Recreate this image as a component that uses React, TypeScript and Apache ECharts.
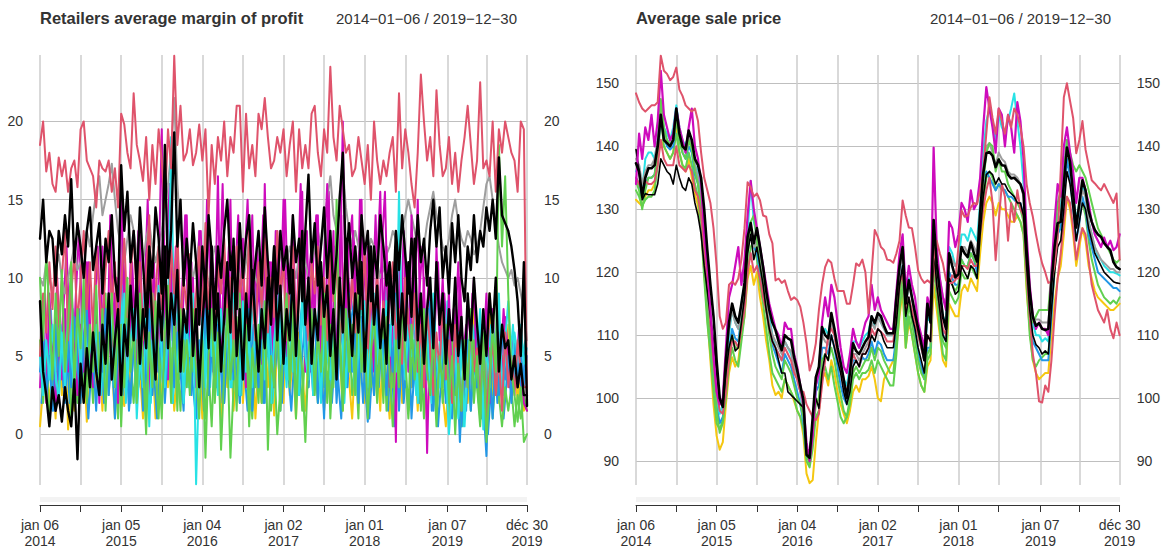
import React, { useEffect, useRef } from 'react';
import * as echarts from 'echarts';

// ---- axis / categories ----
const WEEKS = 313; // 2014-01-06 .. 2019-12-30, weekly
const STEP = 2; // values read every 2nd week
const TICK_IDX = [0, 26, 52, 78, 104, 130, 156, 182, 208, 234, 261, 286, 312];
const LABEL_IDX = [0, 52, 104, 156, 208, 261, 312];
const TICK_LABELS = ['jan 06\n2014', 'jan 05\n2015', 'jan 04\n2016', 'jan 02\n2017', 'jan 01\n2018', 'jan 07\n2019', 'déc 30\n2019'];
const LEFT_TITLE = 'Retailers average margin of profit';
const RIGHT_TITLE = 'Average sale price';
const RANGE_TEXT = '2014\u221201\u221206 / 2019\u221212\u221230';

const C_BLACK = '#000000';
const C_RED = '#DF536B';
const C_GREEN = '#61D04F';
const C_BLUE = '#2297E6';
const C_CYAN = '#28E2E5';
const C_MAGENTA = '#CD0BBC';
const C_YELLOW = '#F5C710';
const C_GRAY = '#9E9E9E';

// ---- left panel: margin of profit (even weeks) ----
const L_red1 = [18.5,20,16.8,18,16,15.5,17.7,16.5,17.5,15.5,
17,17.5,15.8,19.5,20,17.5,17,16.5,14.5,17.5,
17,16.8,17.5,15.5,17,14.5,20.5,19.8,18,17,
21.8,18.5,17.5,16.2,19,15,18.5,16,19.5,17.5,
14.5,19.5,17,24.2,18.5,21,17.5,18,19.5,17.2,
18,19.8,17.5,19.5,14,18.5,16,19,17.5,20,
16.5,19,18,21,21,15.5,20.5,17,18.5,16.5,
20.5,19.5,21.5,19,17,17.5,19,18,19.5,16.5,
18.5,20,15.5,19.5,17,18.5,17,20.5,21,18,
16.5,19.5,18,23.5,19,17.5,21,19.5,18,18.5,
16.5,17,19,17.5,16,18.5,15,20,17.5,16,
17.5,16.5,18,19,15.5,21.8,17,19.5,18,16,
14.5,18,23,20,17.5,19,16.5,22,18.5,16.5,
17,19,16,18,15.5,17.5,19,21,18.5,16,
17.5,22.5,17,17.5,16.5,20,15.5,19.5,18,20,
19,18,17.5,15.5,20,19.5,2];

const L_blackA = [12.5,15,11,13,12.5,9.5,13,11.5,14,12,
16.3,11,13.5,12,10,13,14.5,10.5,12,13.5,
9,12.5,11,14,10,8.5,17.2,13,15.5,11,
13,9.5,14.5,11,7.5,12,10,14.5,12.5,9,
18.5,10,13,19.3,12,15,9.5,12.5,10,13.5,
11,7,12,9,14,11.5,8,12,10,13,
15,10.5,12,8,13.5,10,12.5,14,9,11,
13,9.5,14.5,11,8,12,9,13,10.5,12,
9,14,11,12.5,8.5,13,16.6,11,13.5,9.5,
12,14.5,10,13,9,11.5,15,18,11,13.5,
10,12,9,14,11.5,13,8.5,12,10,14,
12,9.5,11,8,13,10.5,14,11.5,9,12.5,
10.5,14,11,12.5,9.5,13,15,12,14.5,10,
12,9,13.5,11,14,10,8.5,12,10.5,14,
11,13,12,14.5,13,15,12.5,17.7,14,13.5,
13,12,10.5,8.5,5,11,1.8];

const L_blackB = [8.5,4,2.5,0.5,3,1.5,2.5,0.8,3,1.5,
0.5,3.5,-1.6,4.5,2,5.5,3,6.5,4,2.5,
7,4.5,9,3.5,6,8,2.5,7,5,9.5,
6,10,4.5,8,5.5,11,7,3.5,9,6,
12,5.5,9,7,10.5,4,8,6.5,11,5,
8,3,7,10,5.5,12,6,9,4,7.5,
11,6.5,12.5,5,8,3.5,9,6,10.5,7,
4,8,5.5,10,7,12,6,9.5,4.5,8,
6,10.5,5,9,13,7,10,4.5,8,6,
11,7.5,9.5,5,8,3.5,10,6.5,12.5,8,
5,9,6.5,11,4,8.5,12,7,9.5,5.5,
8,4.5,10.5,7,12,5.5,9,6,11,7.5,
12.5,6,9,4.5,8,10,5.5,11,7,9,
4.5,8,6,10,5,7.5,3.5,9,6,10,
7,4.5,8,5,9,6.5,10,4,7,5.5,
6,3.5,5,3,4.5,2.5,2.5];

const L_red2 = [5,9,6.5,11,8,12,7,10,13,6,
9,11.5,7,10,13,8,11,6.5,12,9,
7,10.5,13,8,11,6,9.5,12.5,7.5,10,
13,8.5,11,6,10,14,7,9,12,8,
10.5,6.5,12,9,13,7,10,8,11.5,6,
9,12,7.5,13.5,8,10.5,6,11,9,12.5,
7,10,5.5,12,8.5,11,7,13,9,6,
11,8,12.5,6.5,10,7.5,13,9,11,6,
9.5,12,7,10.5,13,8,6,11,9,12,
7,10,6,12.5,8.5,11,5.5,9,12,7.5,
10,6.5,11,8,12,5.5,9,7,10.5,6,
8.5,5,9,11,6,8,4.5,10,7,5.5,
9,4,7,3,8,5.5,2.5,6.5,4,8.5,
3.5,6,2,7,4.5,1.5,6,3,7,4,
5.5,2,6.5,0.8,4,6,2.5,5,1.5,6.5,
3,5,2.5,6,4,3,3];

const L_gray = [10,9.5,11,10,9,10.5,11.5,10,9,10,
11,12,10.5,11,12.5,13,12,14,15.5,16.5,
14,15,16,17.3,15,13,12,11,12.5,14,
13,11.5,10,11,12.5,13.5,12,11,12,13,
14.5,16,18,21.5,16,13,11.5,12,11,10,
11,12.5,11,10,9.5,11,12,11,10,9.5,
10.5,11.5,12,11,10,9.5,11,12.5,11,10,
9.5,10.5,12,11,10,11,12,11.5,10.5,11,
12,11,10,11.5,12.5,11,10,11,12,13,
12,13.5,15,16.5,14,13,15.5,17,14.5,13,
12,13,12,11,10.5,11.5,12.5,12,11,10,
10.5,11.5,12,13,12.5,12,13,14,15,14,
13,12,11,12,13.5,14.5,15.5,14,13,12,
11.5,12.5,14,15,13.5,12.5,12,13,12.5,11.5,
12,13,14.5,16,16.5,15,13.5,12,11,10.5,
10,10.5,9.5,10,9,8,6];

const L_magenta = [3,7,2,9,5,1.5,6,3.5,8,4,
10,5,2.5,7,4,11,6,3,8.5,2,
12,5,8,3.5,9,2,16.5,7,4,11,
6,3,13,5,9,2.5,7,4.5,10,19.5,
8,3.5,11,6,13,4,9,14,5,10,
3,13,6,9.5,4,12,7,16.5,5,11,
8,15,4,10,6.5,12.5,3,9,14,6,
10,4.5,16,7,11,3,13,8,15,5,
9,14,6,11,15.5,4,10,12,7,14,
5,11,16,7,13,4.5,9,20,6,12,
14,7,10,15,5,12,8,4,11,15.5,
7,12,3,9,-0.5,13,6,11,4,14,
8,15,5,10,-1.2,7,3,12,6,10,
4,9,2.5,7,11,5,3,8,6,10,
3,7,5,9,2,8,4,6.5,3,7.5,
5,2.5,6,3,4.5,2,1.5];

const L_cyan = [5,2.5,6,3.5,7,4,2,6.5,3,8,
5,3,7.5,4,9,2.5,6,4.5,7,3.5,
6,2,8.5,5,3,7,4.5,9,3.5,6,
8,1,5,3,7.5,0.5,6,4,9.5,5,
3,7,19,6,4,8.5,2,6.5,5,9,
-3.2,4,7.5,3,9,5,6.5,2.5,8,4.5,
7,3,9,5.5,2.5,8.5,4,6,3,7.5,
5,9.5,3.5,7,2,6,8,4.5,6.5,3,
8,4,7,2.5,9.5,5,3.5,7,4,6,
2,8,5,3.5,7,4,9,6,3,8,
5.5,2.5,7,4,8.5,3,6,9,4.5,7,
3,8.5,5,9,4,15.5,6,3.5,7,5,
8,2,6.5,4,7,2.5,9,5,3,6.5,
4,0,3,5.5,1,6,0.5,4.5,7,2.5,
5,8,0.3,6,3,7.5,4,9,2.5,6,
8.5,4,6.5,5,7,4.5,5.5];

const L_blue = [4,6.5,2.5,5,1.5,7,3.5,5.5,2,6,
3,7.5,4.5,2,6,8,3,5,1.5,6.5,
4,8,2.5,5.5,1,6,3.5,8.5,4.5,2,
6,3.5,7,1.5,5,8,2.5,6,4,7,
2,5.5,9,3,6.5,4,1.5,7.5,5,3,
1,6,4,8,2.5,5.5,3,7,4.5,2,
6.5,9,3.5,5,2,7,4,8,1.5,5.5,
3,6,2,8.5,4,5.5,7,1.5,6,3.5,
9,4,6.5,2.5,5,7.5,3,6,8,2,
5,1,6.5,3.5,8,2,5.5,7,3,9,
4,6.5,2,7.5,3.5,0.8,5,2.5,8,4.5,
6,2.5,7,4,9,1.5,5.5,3,7,1,
4.5,8,2,6,3.5,8.5,1.5,5,3,6.5,
2,5.5,1,4,6.5,0.5,3.5,6,1.5,4.5,
3,6.5,2,-1.4,4.5,1,5.5,2.5,7,3.5,
5,2,6,3.5,5.5,3,5];

const L_green1 = [10,6,11.5,8,3.5,9,5,10.5,4,7,
11,3,8,5.5,10,2,7,4,9.5,3.5,
8,1.5,6,9,3,7.5,0.5,6,10,4,
7,2,9,4.5,0,6.5,3,8.5,5,1,
6.5,9.5,3,7,1.5,8,4,6,2.5,8,
4,1,6,-1.5,5,8,2,6.5,-1,4,
8,3.5,6,1.5,9,4,7,0.5,5.5,3,
7,2,8.5,-1,5,3,7.5,1.5,6,9,
3,7,1,6,4,-0.5,5,8,2.5,6.5,
4,9,2,7,3,15,6,1.5,8,4,
7,2.5,9,4,6.5,1,5,8,3,6,
2,7.5,4,0.5,6,3,8.5,5,1.5,7,
3.5,6,1.5,8,4,2.5,6.5,1,5,3,
7,2,5,0,4.5,1.5,6,3,8,2,
5,1,6.5,-0.5,3,7,4,18.5,12,16.5,
9,4,2.5,0.8,3,-0.5,0];

const L_green2 = [6,2,5,1,4,7,2.5,5.5,3,8,
1,4.5,2,6,3,8.5,5,2,7,3.5,
5,9,2.5,6,4,1,7,3,8,4.5,
2,6,3.5,8,1.5,5,9,4,1,6.5,
3.5,7,2,8.5,5,1.5,6,3,7,4,
9,3,6.5,1,4,0.5,6,3.5,8,2,
5.5,-1.5,3,7.5,2,6,9,3.5,1,5,
2,7,4,6.5,1.5,5,0,3,6,8,
4,8.5,2,5,1.5,6,3,7,4.5,2,
6,3,8,1,5,3.5,7,2,4.5,6.5,
2.5,5,1,7,4,9,3,6,2,5.5,
7,1.5,5,3,8,2.5,6,4,1,4.5,
6,2.5,5,1,7,3,4.5,0.5,5,2,
4,1,6,2.5,5,0.5,3,4.5,1.5,6,
3,0.5,4,2,5.5,1,4,2.5,0.5,3,
1.5,3,0.5,2.5,1,2.5,1.5];

const L_yellow = [0.5,3,5.5,2,4,1,6,2.5,7,0.3,
4,1.5,6,2,5,0.8,3.5,7,2.5,5,
1.5,6,3,4.5,1,7.5,3,1.8,5.5,2.5,
6,2,4,1,6.5,3.5,5,1,4,2.5,
7,3,5.5,1.5,4,6,2,5,3.5,8,
2,5,1,6,3.5,7,2.5,4.5,1,5.5,
3,6.5,1.5,4,7,2,5,3,6,1,
4.5,2,7,3,5.5,1.2,6,3.5,2,7.5,
2.5,5,1,6.5,4,1.5,5,7.5,3,4.5,
6,1.5,4,2,7,3,5.5,1.5,6,3.5,
1,5,3,7,2,4.5,6,2.5,5,1.5,
7,3.5,1,5.5,2.5,6,2,4,8,3,
5,1.5,6,3.5,1,4,7,2,5,2.5,
0.5,4,2,6,3,1,5,2,4.5,8,
3,5.5,1.5,4,9,2.5,6,2,5,3.5,
7,3,5.5,2,4,1.5,2];

// ---- left panel: series read on odd weeks ----
const L_magenta2 = [6,9,4,7.5,3,10,5,8,12,6,
4,9,13,7,5,11,3.5,8,12,6,
9,4,14,7,10,5,12,8,3,11,
7,13,5,9,15,6,11,4,8,13,
10,16,6,12,4,9,14,7,11,5,
8,13,6,15,10,4,12,9,16,7,
12,5,10,14,6,11,15,8,4,12,
9,14,7,11,4,13,6,10,15,8,
12,5,9,16,7,13,4,11,14,6,
10,7,15.5,5,12,9,14,4,11,8,
13,6,15,9,11,4,8,14,6,12,
15.5,7,10,4,12,6,13,9,5,11,
4,9,12,6,10,3,7,11,5,9,
6,3,8,4,10,5,7,3,9,5,
4,7,3,8,5,2.5,6,4,8,5,
3,6,4,7,3,4];

const L_cyan2 = [3,6,4,8,2.5,5,7,3.5,6.5,4,
8,5,2,6.5,4,7.5,3,9,5.5,2.5,
6,4,8,3,7,5,9.5,2,6,4.5,
8,3.5,6,9,4,2,7.5,5,3,8.5,
5,7,2,6,9.5,4,7,3,8,5.5,
2.5,6,4,8.5,3,7,5,9,4,6.5,
9,3,7,5,2.5,8,4.5,6,10,5,
3,7,4.5,8,2,6,9,4,7,3.5,
6,8,3,5.5,9,4,7,2.5,6,8.5,
4,9,6,3,7.5,5,8,2,6.5,4,
7,3,9,5,6.5,2.5,8,4,7,5.5,
9.5,4,6,8,3,7,5,9,3.5,6,
2.5,7,4,8,5,2,6,3.5,7.5,4.5,
8.5,3,6,1.5,4.5,0.5,6.5,3,7,5,
2,6,0.5,4,7,3,8,5,2.5,6,
4.5,7,3.5,6,5,6];

const L_blue2 = [2,5,3,6.5,1.5,4,7,3,5.5,2,
6,3.5,8,2.5,5,1,4.5,7.5,3,6,
2,5.5,3.5,7,4,8.5,2.5,6,1.5,4,
7,3,5,8.5,2,6,4,1,5.5,3,
8,4.5,2,6,3.5,7,5,9,2.5,6,
3,5.5,1.5,7,4,8.5,3,6,2,5,
7.5,3,6,2.5,8,4,1.5,5,7,3.5,
6.5,2,5,8,3,4.5,7,2,6,4,
1.5,5,3,7.5,9,4,6,2.5,5,3,
7,4,8.5,2,5,3.5,1,6,3,7,
8.5,3,5.5,2,6,1,4.5,7,3,6,
4,1.5,6,0.5,3.5,7,2,5,7.5,3,
5,2,7,4,8,1.5,5,0.5,3.5,6,
2.5,6.5,3,5,-0.5,4,1.5,6,3,7,
4,1,5,0,3,6,2,4.5,1,3.5,
6,3,5,4,2.5,5.5];

// ---- right panel: average sale price ----
const R_black = [137.3,136,132,135,136.5,136.5,137,140,145,141,
140.5,140,141,146,142,140,139.5,142.5,141,138,
137,135,130,123.5,118,113,106,100,98.6,106,
112,115,113,112,115,118.3,125.6,127.8,124.6,127,
124,120.8,117,114,112,110.8,109,107.6,110,109.5,
109.2,106.5,104.4,102,99.7,91,90.5,97,103.3,105,
111.3,110,109.5,113.5,111,108,105.6,103,100,104,
108.7,107.5,107,108,109,109.7,113,111.9,113.5,113,
111.5,110.3,110.3,110.3,116,121,124,115,118.7,116,
113.5,111,108.7,106,115,112,128.3,121.4,117,112.9,
111,123,121,119.2,119.7,124,123,122.4,124.7,123,
121.7,129.4,135.7,138.9,139.1,138.5,136.7,137.9,137,136.9,
135.5,134.9,135,134.5,134,132.5,123.5,117,112.9,111.5,
111.9,111,110.8,111,118.3,124,127.8,128,134,139.8,
137.5,132.5,127.1,131,134.6,133,129.8,128,126.7,126,
125.6,124.6,124,123.5,121.6,120.8,120.5];

const R_black2 = [139.5,136,131.5,132.5,132.3,132.3,132.3,134,138,137,
136,135.5,134,137,135,133.5,133,135,134,131,
129,126,121,117,113,109,104,100,99,104,
108,110,107.5,108,112,116,123,126,122,124,
121,118,114,111,109,108,106,104,104,101,
100.5,100,99.5,99,98.5,92,91.5,96,100,98.4,
104,107,106,110,108,106,104,101,99,101,
105,106,105,107,107,108,110,109,111,110.5,
109,108,108,108,112,118,121,113,116,113,
111,108,106,104,110,109,124,118,114,110,
109,119,118,116.5,117,121,120,119,121,120.5,
119,126,132,135.5,136,135.5,134,135,134,134,
133,132.5,132,131,131,129,121,114,110,108.5,
108,107,107.5,107,114,120,124,125,130,136,
134,130,125,128,131,130,127,125,123,122,
121,120,119.5,119,118.5,118.3,118.2];

const R_red1 = [148.4,147,146,145.5,146,146.5,146.5,147,154.4,152,
151.5,150.5,151,152.5,149,148,146.5,146,145.5,146,
144,139,135,133,131,127,121,113,111,112,
118,118.5,118,119,122,127,134.3,133.5,132,132.5,
131.4,129,128.8,126,124.6,118.7,119,118.3,118.7,117,
115.6,116,115.6,114.5,112,108.7,104.4,106,108.7,114,
118,120.8,122,121.5,119,117,117,117,115,115,
118,121.4,121,122,120,113.5,120,126.7,125.6,124,
123.5,122,121.9,121.5,123,125,131.4,129,127.1,127,
124,120.3,119,118.3,118.7,118.3,122,125,123,121.4,
118.7,118.3,118.3,118.7,124,129.8,128.8,129,130.3,131,
130.8,133,136.2,142,147.8,144.5,142,146,144,142,
145,143,146,145,143,140,134,131,128.8,126,
123.5,121.4,120,118.3,118.5,121,125.6,136.2,147.8,150,
147.2,144.5,138.9,141,144,139.5,137,134.6,134.1,133.5,
133,134,133,132,131,132.5,122];

const R_red2 = [135,134,133,134.5,134,134,134.5,137,141,138,
137,137,137,140,137,136.5,136,137,136,133,
132,129,124,118,112,106,101,98,97.5,101,
106,109,109,108,111,114,120,123,120,121,
119,116,114,111,109,108,107,106,108,107,
106,104,103,101,101,99,98,97,96.5,97.5,
102,106,110,111,110,107,105,102,101,104,
107,106,105,107,107,108,111,110,111,110.5,
110,109,109,109,113,118,120,114,116,114,
112,110,108,106,110,109,122,118,114,111,
110,118,119.5,119,119,121,121,120.5,122,121,
121,126,130,133,135,131,121.9,128,134,132,
125,131,128,133,130,129,120,113,107,104,
99.5,99.3,102,101,106,113,119,123,128,132,
131,127,122,125,127,126,122,118,116,114,
113,112,114,111,109.5,112,110];

const R_yellow = [131.5,131,130.5,132,133,133,134,138,141,140,
139,138,139,143,139,137,136,138,135,132.5,
130.5,127,120,113,106,99,94,91.8,93,99,
104,106.5,105,106,110,113,119,121,118,120,
116,113,109,106,102,100.5,101,100,103,102,
101,99.5,98,97,94,88,86.5,87,93,98,
103,104,102,106,104,101,99,97.5,96,98,
101,102,101,103,103,103.5,105,103,100,99.5,
103,104,105,106,108,113,117,108,112,110,
107,104,102,101,105,106,118,114,110,106,
105,115,114,113,113,117,118,117,119,118,
117,123,128,131,132,131,129,131,130,130,
129,128,128,129,128,126,117,111,106,104,
103,103.5,104,104,110,115,119,121,126,132,
130,126,121,124,127,125,121,119,117,116,
115.5,115,114.5,114,114,114.5,115];

const R_green1 = [134.5,133,130,133,135,135,135.5,139,147.5,143,
141,140,141,144,141,139,138,141,139.5,136,
134,130,121,114,110,104,98,94.5,96,101,
107,110,108,108,112,115,123,128,129,125,
121,118,114,110,107,105,104,103,106,105,
104,102,100,99,97,91,89.5,94,99,100,
106,107,106,108,106,103,100.5,98,97,100,
104,105,104,105,106,106,108,106,108,107.5,
106,105,104,104,109,116,120,110,115,112,
109,106,104,103,107,108,124,118,113,109,
108,119,118,117,118,122,121,121,123,122,
121,128,134,139,140.5,140,136,138,136,136,
134,133,132,131,130,128,121,114,112,113,
114,114,114,114,120,126,131,133,136,141,
139,137,136,137,136,135,133,131,129,127,
126,125,124,123,122,121.5,122];

const R_green2 = [133,132,130.5,131.5,132,132,133,137,145,140,
139,138,139,142,139,137,136.5,139,137,134,
132,127,119,112,107,101,96,95,96.5,100,
105,108,106,105,109,113,120,124,125,122,
118,115,111,107,104,103,102,101,103,102,
101,100,98,97,95,90,89,92,97,98,
104,105,103,105,102,99.5,97,96,97,99,
103,104,103,104,104,104.5,106,104,106,105,
104,103,102,102,107,114,118,108,113,110,
107,104,102,101,106,107,121,116,111,107,
106,117,116,115,116,120,119,119,121,120,
119,126,131,135,136,135,133,134,133,133,
132,131,130,129,128,126,118,110,106,105,
106,106.5,107,107,113,120,126,129,133,138,
136,132,128,130,131,129,125,122,120,118,
117,116,115.5,115,115.5,115,116];

const R_blue = [135,134,132,134,135,135,135.5,139,145,141.5,
140,139.5,140,144.5,141,139,138,140,139,135.5,
134,130,123,116,110,104,99,96,97,102,
108,111,109.5,109,113,116,124,126,124,123,
120,117,114,111,108.5,107,105.5,104,107,106,
105,103,101,99,96,91,90,95,101,102,
108,108,107,110,108,105,102,100,99,102,
106,106,105,106.5,106,107,109,107,109,108.5,
107,106,106,106,110,117,121,111,116,113,
110,107,105,103,108,108,125,119,114,110,
109,120,119,118,118,122,121,121,123,122,
120,128,134,136,135,134,133,134,133.5,133,
132,132,131.5,131,131,129,121,114,109,108,
107,106,106,106,113,121,126,127,132,138,
135,130,125,128,132,130,126,124,122,120,
119.5,119,118.5,118,117.5,117.5,117];

const R_cyan = [136,137,133,138,139,139,138,141,147,143,
142,141,143,146.5,143,141,140,142,140,137,
136,132,125,119,113,106,100,97.5,99,104,
110,114,112,111,115,118,126,134.5,128,126,
123,120,116,113,110,108,107,106,109,108,
107,105,103,101,97,92,91,96,102,104,
110,111,110,113,111,108,106,103,102,105,
109,109,108,109,110,110.5,113,111.5,113,112,
111,110,110,110,114,120,123,114,119,116,
113,110,108,106,113,112,127,121,117,113,
112,124,123,121,122,126,126,125,127,126,
125,131,139,144,146,144,141,145,143,142,
144,146,148.4,144,140,134,124,116,112,110,
110,109,109.5,109,117,124,129,131,136,141,
138,133,128,131,134,132,128,126,124,122.5,
122,121,120.5,120,120,119.8,119.5];

const R_magenta = [134,142,138,143,141,145,140,144,152,145,
143,141,142,146,143,141,139,143,146,140,
138,134,126,121,114,107,101,99,100,108,
116,118,121,124,118,122,129,134.5,130,127,
124,121,118,115,113,111,110,108,112,111,
111,107,105,102,99,93,90,94,102,104,
112,116,113,118,116,112,108,105,104,107,
111,109,108,110,112,113,118,114,116,114,
113,112,111,111,117,123,126,117,121,118,
116,112,110,108,116,114,139.8,124,119,116,
114,128,127,124,126,131,130,128,133,130,
131,135,143,149.4,146,143,139,146,145,140,
145,143,139,147,144,138,126,118,113,111,
112,111,111,110,120,128,134,132,140,143,
139,136,131,135,135,133,131,128,126,125,
124,125.5,124,125,123.5,124,126];

const R_gray = [138,137,134,136,137,137,138,141,146,142,
141,140.5,141.5,145,142,140,139,141.5,140,137,
135,131,125,119,113,106,101,99,100,106,
111,114,112,111,114,117,125,127,124,125,
122,119,115,112,110,109,108,107,109,108,
107.5,105,103,101,98,92,91,96,102,104,
110,109,108.5,112,110,107,105,102,100,103,
107,107,106,107,108,109,112,111,113,112,
111,110,110,110,115,120,123,115,118,116,
113,111,109,107,114,113,127,122,119,116,
115,123,122,121,122,124,124,123,125,124,
123,130,136,140,140.5,139,137,139,138,137.5,
136,135.5,135.5,135,134,132,123,116,113,112.5,
112.5,112,112,112,118,124,128,129,134,140,
137,132,127,130,133,132,128,126,124,123,
122,121.5,121,120.5,120.5,120,120];

const FONT = 'Liberation Sans, Arial, Helvetica, sans-serif';
const TEXT = '#333333';

function pairs(arr: number[], off: number) {
  return arr.map((v, k) => [k * STEP + off, v]);
}

function mkLine(arr: number[], color: string, width: number, xi: number, yi: number, off = 0) {
  return {
    type: 'line',
    xAxisIndex: xi,
    yAxisIndex: yi,
    data: pairs(arr, off),
    symbol: 'none',
    showSymbol: false,
    silent: true,
    lineStyle: { color, width, cap: 'round', join: 'round' },
    itemStyle: { color },
    emphasis: { disabled: true },
  };
}

function mkX(gridIndex: number) {
  const cats = Array.from({ length: WEEKS }, (_, i) => String(i));
  return {
    type: 'category',
    gridIndex,
    data: cats,
    boundaryGap: false,
    offset: 20,
    axisLine: { show: true, onZero: false, lineStyle: { color: '#333333', width: 1 } },
    axisTick: {
      show: true,
      length: 7,
      interval: (i: number) => TICK_IDX.includes(i),
      lineStyle: { color: '#333333', width: 1 },
    },
    axisLabel: {
      interval: (i: number) => LABEL_IDX.includes(i),
      formatter: (_v: string, i: number) => {
        const p = LABEL_IDX.indexOf(i);
        return p >= 0 ? TICK_LABELS[p] : '';
      },
      fontSize: 14,
      lineHeight: 16,
      color: TEXT,
      margin: 12,
      fontFamily: FONT,
    },
    splitLine: {
      show: true,
      interval: (i: number) => TICK_IDX.includes(i),
      lineStyle: { color: '#cccccc', width: 1.5 },
    },
  };
}

function mkY(gridIndex: number, min: number, max: number, step: number, position: string, grid: boolean) {
  return {
    type: 'value',
    gridIndex,
    min,
    max,
    minInterval: step,
    maxInterval: step,
    position,
    axisLine: { show: false },
    axisTick: { show: false },
    axisLabel: {
      fontSize: 14,
      color: TEXT,
      margin: 17,
      fontFamily: FONT,
      formatter: (v: number) => (Math.abs(v / step - Math.round(v / step)) < 1e-6 ? String(Math.round(v)) : ''),
    },
    splitLine: {
      show: grid,
      showMinLine: false,
      showMaxLine: false,
      lineStyle: { color: '#bfbfbf', width: 1 },
    },
  };
}

export default function App() {
  const ref = useRef<HTMLDivElement>(null);
  useEffect(() => {
    if (!ref.current) return;
    const chart = echarts.init(ref.current, null, { renderer: 'svg' });
    const L = 0, R = 1;
    const series = [
      // left panel (grid 0, y axis 0)
      mkLine(L_magenta2, C_MAGENTA, 2, L, 0, 1),
      mkLine(L_yellow, C_YELLOW, 2, L, 0),
      mkLine(L_blue2, C_BLUE, 2, L, 0, 1),
      mkLine(L_cyan2, C_CYAN, 2, L, 0, 1),
      mkLine(L_gray, C_GRAY, 2, L, 0),
      mkLine(L_green2, C_GREEN, 2, L, 0),
      mkLine(L_magenta, C_MAGENTA, 2, L, 0),
      mkLine(L_blue, C_BLUE, 2, L, 0),
      mkLine(L_cyan, C_CYAN, 2, L, 0),
      mkLine(L_red2, C_RED, 2, L, 0),
      mkLine(L_green1, C_GREEN, 2, L, 0),
      mkLine(L_blackB, C_BLACK, 2.4, L, 0),
      mkLine(L_red1, C_RED, 2, L, 0),
      mkLine(L_blackA, C_BLACK, 2.4, L, 0),
      // right panel (grid 1, y axis 2)
      mkLine(R_yellow, C_YELLOW, 2, R, 2),
      mkLine(R_green2, C_GREEN, 2, R, 2),
      mkLine(R_blue, C_BLUE, 2, R, 2),
      mkLine(R_cyan, C_CYAN, 2, R, 2),
      mkLine(R_gray, C_GRAY, 2, R, 2),
      mkLine(R_green1, C_GREEN, 2, R, 2),
      mkLine(R_red2, C_RED, 2, R, 2),
      mkLine(R_black2, C_BLACK, 1.6, R, 2),
      mkLine(R_magenta, C_MAGENTA, 2.2, R, 2),
      mkLine(R_red1, C_RED, 2, R, 2),
      mkLine(R_black, C_BLACK, 2.6, R, 2),
    ];
    chart.setOption({
      animation: false,
      backgroundColor: '#ffffff',
      textStyle: { fontFamily: FONT },
      grid: [
        { left: 40, top: 55, width: 487, height: 430 },
        { left: 636, top: 55, width: 484, height: 430 },
      ],
      xAxis: [mkX(0), mkX(1)],
      yAxis: [
        mkY(0, -3.25, 24.25, 5, 'left', true),
        mkY(0, -3.25, 24.25, 5, 'right', false),
        mkY(1, 86.2, 154.5, 10, 'left', true),
        mkY(1, 86.2, 154.5, 10, 'right', false),
      ],
      series,
      graphic: [
        { type: 'rect', silent: true, shape: { x: 40, y: 497, width: 487, height: 5 }, style: { fill: '#f3f3f3' } },
        { type: 'rect', silent: true, shape: { x: 636, y: 497, width: 484, height: 5 }, style: { fill: '#f3f3f3' } },
        { type: 'text', x: 40, y: 18, style: { text: LEFT_TITLE, fontSize: 16.5, fontWeight: 'bold', fill: TEXT, fontFamily: FONT, verticalAlign: 'middle', align: 'left' } },
        { type: 'text', x: 517, y: 18, style: { text: RANGE_TEXT, fontSize: 15, fill: TEXT, fontFamily: FONT, verticalAlign: 'middle', align: 'right' } },
        { type: 'text', x: 636, y: 18, style: { text: RIGHT_TITLE, fontSize: 16.5, fontWeight: 'bold', fill: TEXT, fontFamily: FONT, verticalAlign: 'middle', align: 'left' } },
        { type: 'text', x: 1111, y: 18, style: { text: RANGE_TEXT, fontSize: 15, fill: TEXT, fontFamily: FONT, verticalAlign: 'middle', align: 'right' } },
      ],
    });
    return () => chart.dispose();
  }, []);
  return (
    <div
      ref={ref}
      style={{ position: 'fixed', left: 0, top: 0, width: 1163, height: 550, background: '#ffffff' }}
    />
  );
}
